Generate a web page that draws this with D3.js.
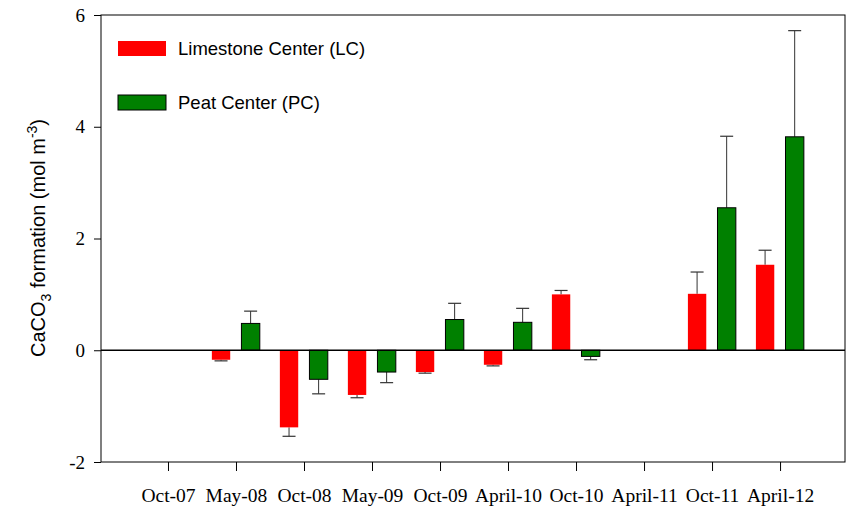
<!DOCTYPE html>
<html>
<head>
<meta charset="utf-8">
<script src="https://cdn.jsdelivr.net/npm/d3@7"></script>
<style>
  body { margin: 0; background: #fff; }
  .tick text { font-family: "Liberation Serif", "Times New Roman", serif; }
</style>
</head>
<body>
<script>
var categories = ["Oct-07", "May-08", "Oct-08", "May-09", "Oct-09", "April-10", "Oct-10", "April-11", "Oct-11", "April-12"];
var lcValues = [null, -0.17, -1.38, -0.80, -0.39, -0.26, 1.00, null, 1.01, 1.53];
var lcErrors = [null, 0.02, 0.16, 0.05, 0.02, 0.02, 0.07, null, 0.39, 0.26];
var pcValues = [null, 0.48, -0.52, -0.39, 0.55, 0.50, -0.11, null, 2.55, 3.82];
var pcErrors = [null, 0.22, 0.26, 0.19, 0.29, 0.25, 0.06, null, 1.28, 1.90];
var yTicks = [-2, 0, 2, 4, 6];

var width = 850, height = 506;
var plotLeft = 101, plotRight = 845, plotTop = 15, plotBottom = 462;

var svg = d3.select("body").append("svg")
    .attr("width", width)
    .attr("height", height);

var x = d3.scaleLinear().domain([-0.985, 9.955]).range([plotLeft, plotRight]);
var y = d3.scaleLinear().domain([-2, 6]).range([plotBottom, plotTop]);

var series = [
  {name: "Limestone Center (LC)", values: lcValues, errors: lcErrors, fill: "#ff0000", stroke: "none", offset: -0.22},
  {name: "Peat Center (PC)", values: pcValues, errors: pcErrors, fill: "#008000", stroke: "#000", offset: 0.215}
];
var barW = 0.27;

// frame
svg.append("rect")
    .attr("x", plotLeft).attr("y", plotTop)
    .attr("width", plotRight - plotLeft).attr("height", plotBottom - plotTop)
    .attr("fill", "none").attr("stroke", "#000").attr("stroke-width", 1);

// bars and error bars
series.forEach(function(s) {
  var data = s.values.map(function(v, i) { return {i: i, v: v, e: s.errors[i]}; })
      .filter(function(d) { return d.v != null; });
  var g = svg.append("g");
  var tip = function(d) { return y(d.v + (d.v < 0 ? -d.e : d.e)); };

  g.selectAll("line.err").data(data).enter().append("line")
      .attr("x1", function(d) { return x(d.i + s.offset); })
      .attr("x2", function(d) { return x(d.i + s.offset); })
      .attr("y1", function(d) { return y(d.v); })
      .attr("y2", tip)
      .attr("stroke", "#333").attr("stroke-width", 1);

  g.selectAll("line.cap").data(data).enter().append("line")
      .attr("x1", function(d) { return x(d.i + s.offset) - 6.5; })
      .attr("x2", function(d) { return x(d.i + s.offset) + 6.5; })
      .attr("y1", tip)
      .attr("y2", tip)
      .attr("stroke", "#333").attr("stroke-width", 1.2);

  g.selectAll("rect").data(data).enter().append("rect")
      .attr("x", function(d) { return x(d.i + s.offset - barW / 2); })
      .attr("width", x(barW) - x(0))
      .attr("y", function(d) { return y(Math.max(0, d.v)); })
      .attr("height", function(d) { return Math.abs(y(d.v) - y(0)); })
      .attr("fill", s.fill)
      .attr("stroke", s.stroke).attr("stroke-width", 1);
});

// zero line
svg.append("line")
    .attr("x1", plotLeft).attr("x2", plotRight)
    .attr("y1", y(0)).attr("y2", y(0))
    .attr("stroke", "#000").attr("stroke-width", 1.5);

// y axis
var yAxis = svg.append("g")
    .attr("transform", "translate(" + plotLeft + ",0)")
    .call(d3.axisLeft(y).tickValues(yTicks).tickSize(7).tickPadding(9)
      .tickFormat(function(d) { return String(d); }));
yAxis.select(".domain").remove();
yAxis.selectAll("text").attr("font-size", 19).attr("fill", "#000");

// x axis
var xAxis = svg.append("g")
    .attr("transform", "translate(0," + plotBottom + ")")
    .call(d3.axisBottom(x).tickValues(d3.range(categories.length))
      .tickFormat(function(i) { return categories[i]; })
      .tickSize(9).tickPadding(17));
xAxis.select(".domain").remove();
xAxis.selectAll("text").attr("font-size", 19.5).attr("fill", "#000");

// y label
var yl = svg.append("text")
    .attr("transform", "translate(45,238) rotate(-90)")
    .attr("text-anchor", "middle")
    .attr("font-family", "Liberation Sans, Arial, sans-serif")
    .attr("font-size", 20)
    .attr("fill", "#000");
yl.append("tspan").text("CaCO");
yl.append("tspan").attr("font-size", 14).attr("dy", 6).text("3");
yl.append("tspan").attr("dy", -6).text(" formation (mol m");
yl.append("tspan").attr("font-size", 14).attr("dy", -8).text("-3");
yl.append("tspan").attr("dy", 8).text(")");

// legend
var legend = svg.append("g");
series.forEach(function(s, k) {
  var ly = 48 + k * 54;
  legend.append("rect")
      .attr("x", 118).attr("y", ly - 7)
      .attr("width", 48).attr("height", 15)
      .attr("fill", s.fill)
      .attr("stroke", s.stroke);
  legend.append("text")
      .attr("x", 178).attr("y", ly + 6.5)
      .attr("font-family", "Liberation Sans, Arial, sans-serif")
      .attr("font-size", 18.5)
      .attr("fill", "#000")
      .text(s.name);
});
</script>
</body>
</html>
